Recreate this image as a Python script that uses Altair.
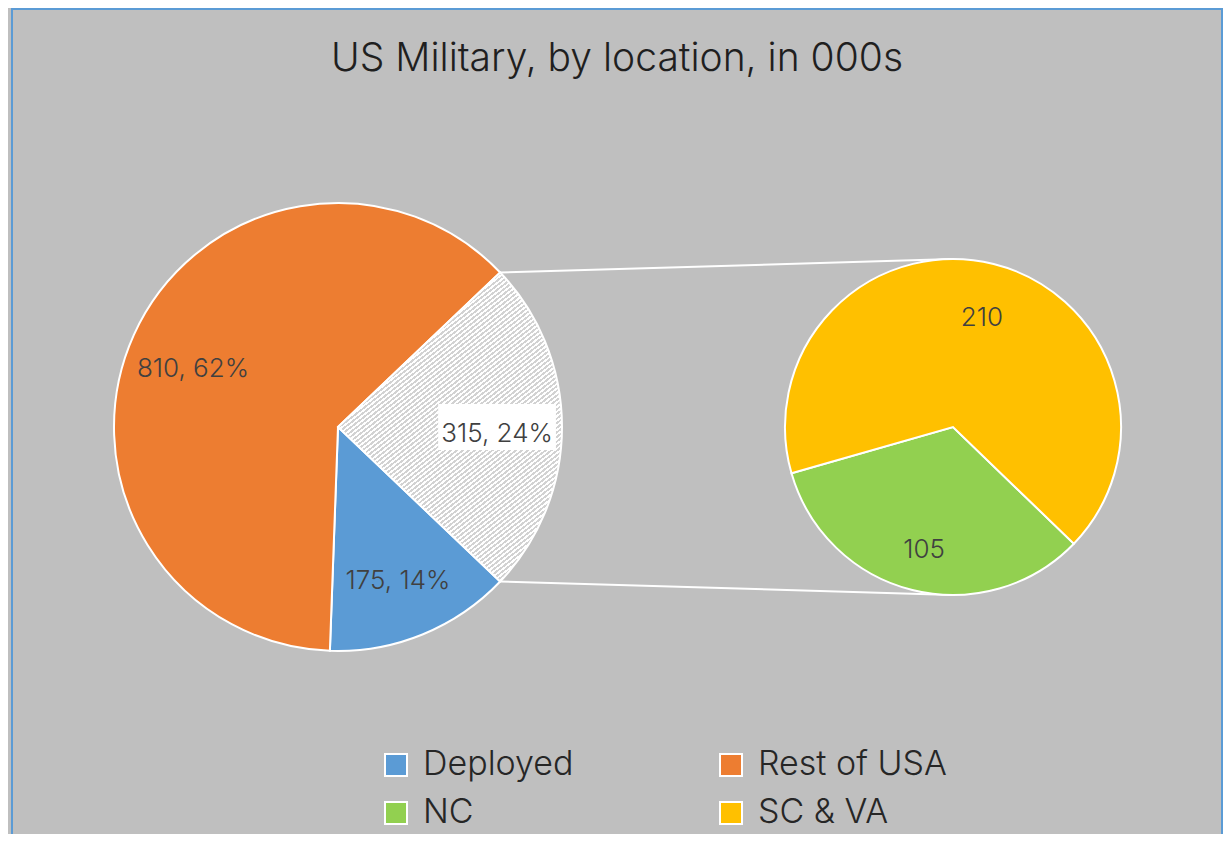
import math
import altair as alt
import pandas as pd

# ---------------- data ----------------
title_text = "US Military, by location, in 000s"
main_names = ["Other", "Deployed", "Rest of USA"]
main_values = [315, 175, 810]
main_pcts = [24, 14, 62]
sub_names = ["NC", "SC & VA"]
sub_values = [105, 210]
legend_order = ["Deployed", "Rest of USA", "NC", "SC & VA"]
legend_colors = ["#5B9BD5", "#ED7D31", "#92D050", "#FFC000"]

# ---------------- layout ----------------
W, H = 1210, 831
C1 = (326, 418)
R1 = 224
C2 = (941, 418)
R2 = 168
SUB_START_DEG = 134
LABEL_FRAC = 0.71
FONT = "Inter"

total = sum(main_values)
other_share = main_values[0] / total
a0 = math.pi / 2 - other_share * math.pi        # "Other" slice centred on the right
b0 = math.radians(SUB_START_DEG)
sub_total = sum(sub_values)

# main pie table
main = pd.DataFrame({"name": main_names, "value": main_values, "pct": main_pcts})
main["end"] = main["value"].cumsum()
main["start"] = main["end"] - main["value"]
main["cx"] = C1[0]
main["cy"] = C1[1]
main["mid"] = a0 + (main["start"] + main["end"]) / 2 / total * 2 * math.pi
main["lx"] = C1[0] + LABEL_FRAC * R1 * main["mid"].apply(math.sin)
main["ly"] = C1[1] - LABEL_FRAC * R1 * main["mid"].apply(math.cos)
main["label"] = main["value"].astype(str) + ", " + main["pct"].astype(str) + "%"

# secondary pie table
sub = pd.DataFrame({"name": sub_names, "value": sub_values})
sub["end"] = sub["value"].cumsum()
sub["start"] = sub["end"] - sub["value"]
sub["cx"] = C2[0]
sub["cy"] = C2[1]
sub["mid"] = b0 + (sub["start"] + sub["end"]) / 2 / sub_total * 2 * math.pi
sub["lx"] = C2[0] + LABEL_FRAC * R2 * sub["mid"].apply(math.sin)
sub["ly"] = C2[1] - LABEL_FRAC * R2 * sub["mid"].apply(math.cos)
sub["label"] = sub["value"].astype(str)

# connector lines (from edges of the "Other" slice to top/bottom of second pie)
a1 = a0 + other_share * 2 * math.pi
conn = pd.DataFrame({
    "x": [C1[0] + R1 * math.sin(a0), C1[0] + R1 * math.sin(a1)],
    "y": [C1[1] - R1 * math.cos(a0), C1[1] - R1 * math.cos(a1)],
    "x2": [C2[0], C2[0]],
    "y2": [C2[1] - R2, C2[1] + R2],
})

# hatch-like gradient for the "Other" slice
bw = R1
bh = 2 * R1 * math.cos(a0)
ang = math.radians(38)
nx, ny = math.sin(ang), math.cos(ang)
alpha, beta = nx * bw, ny * bh
k = (alpha + beta) / (alpha ** 2 + beta ** 2)
L = alpha + beta
period = 3.6
N = int(L / period)
stops = []
for i in range(N):
    o0, o1, o2 = i / N, (i + 0.5) / N, (i + 1) / N
    stops += [alt.GradientStop(offset=o0, color="#FFFFFF"),
              alt.GradientStop(offset=o1, color="#FFFFFF"),
              alt.GradientStop(offset=o1, color="#D2D2D2"),
              alt.GradientStop(offset=o2, color="#D2D2D2")]
hatch = alt.LinearGradient(gradient="linear", stops=stops,
                           x1=0, y1=0, x2=alpha * k, y2=beta * k)

xs = alt.Scale(domain=[0, W], nice=False, zero=False)
ys = alt.Scale(domain=[0, H], nice=False, zero=False, reverse=True)
main_theta = alt.Scale(domain=[0, total], range=[a0, a0 + 2 * math.pi])
sub_theta = alt.Scale(domain=[0, sub_total], range=[b0, b0 + 2 * math.pi])
color_scale = alt.Scale(domain=legend_order, range=legend_colors)
legend = alt.Legend(orient="none", legendX=367, legendY=739, columns=2,
                    direction="horizontal",
                    columnPadding=140, rowPadding=14, symbolType="square",
                    symbolSize=484, symbolStrokeColor="white", symbolStrokeWidth=2,
                    symbolOpacity=1, labelFontSize=34, labelFont=FONT,
                    labelFontWeight=300, labelColor="#262626", labelOffset=10,
                    labelLimit=0, title=None, padding=0)

X = lambda f: alt.X(f, type="quantitative", scale=xs, axis=None)
Y = lambda f: alt.Y(f, type="quantitative", scale=ys, axis=None)

connectors = alt.Chart(conn).mark_rule(color="white", strokeWidth=2).encode(
    x=X("x"), y=Y("y"), x2="x2:Q", y2="y2:Q")

main_pie = alt.Chart(main).transform_filter(alt.datum.name != "Other").mark_arc(
    radius=R1, stroke="white", strokeWidth=2).encode(
    x=X("cx"), y=Y("cy"),
    theta=alt.Theta("start:Q", scale=main_theta), theta2="end:Q",
    fill=alt.Fill("name:N", scale=color_scale, legend=legend))

other_pie = alt.Chart(main).transform_filter(alt.datum.name == "Other").mark_arc(
    radius=R1, stroke="white", strokeWidth=2, fill=hatch).encode(
    x=X("cx"), y=Y("cy"),
    theta=alt.Theta("start:Q", scale=main_theta), theta2="end:Q")

sub_pie = alt.Chart(sub).mark_arc(radius=R2, stroke="white", strokeWidth=2).encode(
    x=X("cx"), y=Y("cy"),
    theta=alt.Theta("start:Q", scale=sub_theta), theta2="end:Q",
    fill=alt.Fill("name:N", scale=color_scale, legend=legend))

box = alt.Chart(main).transform_filter(alt.datum.name == "Other").mark_point(
    shape="M-2.56,-1H2.56V1H-2.56Z", filled=True, fill="white", opacity=1,
    size=46 * 46, strokeWidth=0).encode(x=X("lx"), y=Y("ly"))

main_text = alt.Chart(main).mark_text(font=FONT, fontSize=26, fontWeight=300,
                                      color="#404040", dy=7).encode(
    x=X("lx"), y=Y("ly"), text="label:N")

sub_text = alt.Chart(sub).mark_text(font=FONT, fontSize=26, fontWeight=300,
                                    color="#404040", dy=7).encode(
    x=X("lx"), y=Y("ly"), text="label:N")

chart = alt.layer(connectors, main_pie, other_pie, sub_pie, box, main_text, sub_text).resolve_scale(
    theta="independent"
).properties(
    width=W, height=H,
    title=alt.TitleParams(title_text, font=FONT, fontSize=39, fontWeight=300,
                          color="#1F1F1F", anchor="middle", offset=0,
                          baseline="alphabetic", dy=101),
    autosize=alt.AutoSizeParams(type="none"),
    padding={"left": 4, "top": 1, "right": 1, "bottom": -6},
    background="#BFBFBF",
).configure_view(stroke="#5B9BD5", strokeWidth=2, fill=None)

chart.save("out.html", embed_options={"renderer": "svg", "actions": False})
